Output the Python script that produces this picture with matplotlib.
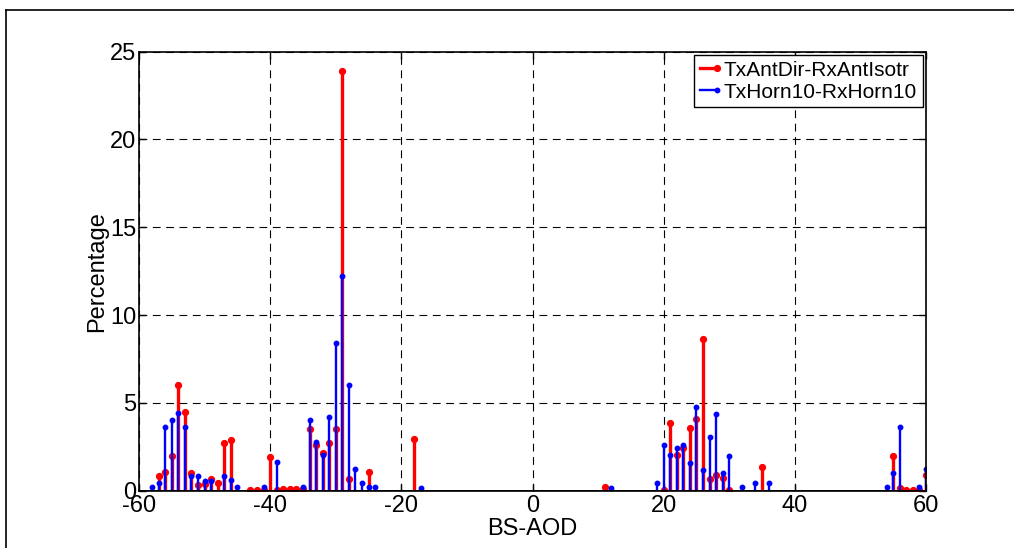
import matplotlib
matplotlib.use("Agg")
import matplotlib.pyplot as plt
from matplotlib.lines import Line2D
from matplotlib.legend_handler import HandlerLine2D

plt.rcParams['font.family'] = ['Liberation Sans', 'DejaVu Sans']
plt.rcParams['axes.unicode_minus'] = False

# Series 1: TxAntDir-RxAntIsotr (red)
red_x = [-57, -56, -55, -54, -53, -52, -51, -50, -49, -48, -47, -46,
         -43, -42, -41, -40, -39, -38, -37, -36, -35, -34, -33, -32, -31, -30,
         -29, -28, -25, -18, 11, 20, 21, 22, 23, 24, 25, 26, 27, 28, 29, 30,
         35, 55, 56, 57, 58, 59, 60]
red_y = [0.85, 1.04, 1.97, 6.04, 4.50, 1.02, 0.32, 0.38, 0.64, 0.45, 2.69, 2.88,
         0.04, 0.04, 0.03, 1.93, 0.05, 0.08, 0.07, 0.08, 0.07, 3.54, 2.60, 2.16, 2.73, 3.54,
         23.9, 0.64, 1.08, 2.97, 0.23, 0.04, 3.83, 2.06, 2.42, 3.58, 4.09, 8.64, 0.68, 0.87, 0.72, 0.04,
         1.36, 1.99, 0.15, 0.04, 0.04, 0.02, 0.91]

# Series 2: TxHorn10-RxHorn10 (blue)
blue_x = [-58, -57, -56, -55, -54, -53, -52, -51, -50, -49, -47, -46, -45,
          -41, -39, -35, -34, -33, -32, -31, -30, -29, -28, -27, -26, -25, -24,
          -17, 12, 19, 20, 21, 22, 23, 24, 25, 26, 27, 28, 29, 30, 32, 34, 36,
          54, 55, 56, 59, 60]
blue_y = [0.23, 0.42, 3.64, 4.00, 4.43, 3.60, 0.83, 0.83, 0.57, 0.57, 0.83, 0.60, 0.23,
          0.20, 1.61, 0.20, 4.05, 2.78, 2.03, 4.20, 8.41, 12.2, 6.00, 1.21, 0.42, 0.23, 0.23,
          0.17, 0.17, 0.42, 2.60, 2.03, 2.44, 2.60, 1.59, 4.77, 1.19, 3.03, 4.39, 1.02, 2.00, 0.23, 0.42, 0.42,
          0.19, 1.02, 3.60, 0.19, 1.21]

labels = ['TxAntDir-RxAntIsotr', 'TxHorn10-RxHorn10']
xticks = [-60, -40, -20, 0, 20, 40, 60]
yticks = [0, 5, 10, 15, 20, 25]

W, H = 1014, 548
fig = plt.figure(figsize=(W / 100, H / 100), dpi=100)
ax = fig.add_axes([139 / W, 1 - 490.7 / H, 787 / W, 439 / H])

def draw_stem(x, y, color, lw, ms):
    ml, sl, bl = ax.stem(x, y, basefmt=' ')
    sl.set_color(color)
    sl.set_linewidth(lw)
    ml.set_color(color)
    ml.set_markersize(ms)
    ml.set_markeredgecolor(color)
    ml.set_markerfacecolor(color)
    return ml, sl

draw_stem(red_x, red_y, '#ff0000', 2.4, 4.2)
draw_stem(blue_x, blue_y, '#0000ff', 1.7, 3.2)
ax.axhline(0, color='black', lw=1.4, zorder=3)

ax.set_xlim(-60, 60)
ax.set_ylim(0, 25)
ax.set_xticks(xticks)
ax.set_yticks(yticks)
ax.grid(True, color='black', linestyle=(0, (7, 5)), linewidth=0.8)
ax.set_axisbelow(True)
ax.tick_params(direction='in', length=5, width=1, top=True, right=True,
               labelsize=17)
ax.tick_params(axis='x', pad=3)
ax.tick_params(axis='y', pad=2)
for s in ax.spines.values():
    s.set_linewidth(1.2)

ax.set_xlabel('BS-AOD', fontsize=17)
ax.set_ylabel('Percentage', fontsize=17)
ax.xaxis.set_label_coords(0.5, (490.7 - 518) / 439)
ax.yaxis.set_label_coords((108 - 139) / 787, 0.5)


class EndMarkerHandler(HandlerLine2D):
    def create_artists(self, legend, orig_handle, xdescent, ydescent,
                       width, height, fontsize, trans):
        arts = super().create_artists(legend, orig_handle, xdescent, ydescent,
                                      width, height, fontsize, trans)
        line = arts[0]
        n = len(line.get_xdata())
        line.set_markevery([n - 1])
        return arts


h_red = Line2D([], [], color='#ff0000', lw=2.4, marker='o', ms=4.2)
h_blue = Line2D([], [], color='#0000ff', lw=1.7, marker='o', ms=3.2)
leg = ax.legend([h_red, h_blue], labels, loc='upper right', fontsize=15,
                handlelength=0.8, handletextpad=0.35, borderpad=0.28,
                labelspacing=0.14, borderaxespad=0.15, fancybox=False,
                framealpha=1, edgecolor='black', numpoints=1,
                handler_map={Line2D: EndMarkerHandler()})
leg.get_frame().set_linewidth(1.0)

# outer figure border (partially visible)
fig.add_artist(Line2D([6 / W, 1], [1 - 10 / H, 1 - 10 / H],
                      transform=fig.transFigure, color='black', lw=1.2))
fig.add_artist(Line2D([6 / W, 6 / W], [0, 1 - 10 / H],
                      transform=fig.transFigure, color='black', lw=1.2))

fig.savefig('out.png', dpi=100)
